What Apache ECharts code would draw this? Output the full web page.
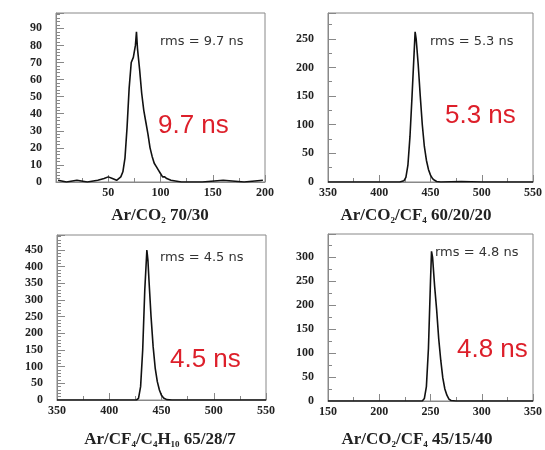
<!DOCTYPE html>
<html>
<head>
<meta charset="utf-8">
<script src="https://cdn.jsdelivr.net/npm/echarts@6/dist/echarts.min.js"></script>
<style>
  html, body { margin: 0; padding: 0; background: #fff; }
  #chart { width: 545px; height: 450px; }
</style>
</head>
<body>
<div id="chart"></div>
<script>
// time distributions, one histogram per gas mixture
const xsA = [2, 10, 20, 30, 40, 46, 50, 54, 58, 62, 64, 66, 68, 70, 72, 74, 76, 77, 78, 80, 82, 84, 86, 88, 90, 92, 94, 96, 98, 100, 102, 104, 106, 110, 120, 140, 160, 180, 198];
const ysA = [1, 0, 1, 0, 1, 2, 3, 2, 1, 3, 6, 14, 32, 55, 70, 73, 80, 88, 78, 66, 52, 42, 35, 28, 20, 15, 11, 9, 7, 5, 3, 3, 2, 1, 0, 0, 1, 0, 1];

const xsB = [350, 420, 424, 426, 428, 430, 432, 434, 435, 436, 438, 440, 442, 444, 446, 448, 450, 452, 454, 456, 460, 480, 500, 550];
const ysB = [0, 0, 2, 8, 30, 80, 150, 225, 262, 250, 205, 150, 100, 62, 38, 22, 12, 6, 3, 1, 0, 1, 0, 0];

const xsC = [350, 426, 428, 430, 432, 434, 436, 437, 438, 440, 442, 444, 446, 448, 450, 452, 455, 460, 550];
const ysC = [0, 0, 5, 40, 150, 330, 450, 420, 360, 250, 160, 95, 55, 30, 14, 6, 1, 0, 0];

const xsD = [150, 242, 244, 246, 248, 250, 251, 252, 254, 256, 258, 260, 262, 264, 266, 268, 270, 275, 350];
const ysD = [0, 0, 5, 30, 110, 250, 312, 300, 240, 190, 130, 85, 48, 25, 12, 4, 1, 0, 0];

const rmsLabels = ['rms = 9.7 ns', 'rms = 5.3 ns', 'rms = 4.5 ns', 'rms = 4.8 ns'];
const bigLabels = ['9.7 ns', '5.3 ns', '4.5 ns', '4.8 ns'];

const chart = echarts.init(document.getElementById('chart'));

const serif = '"Liberation Serif", "DejaVu Serif", serif';
const panels = [
  { xs: xsA, ys: ysA, grid: { left: 56, top: 13, width: 209, height: 169 }, x: [0, 200], y: [0, 99], yInt: 10, yMinor: 5, hideX0: true,
    title: '{a|Ar/CO}{s|2}{a| 70/30}', tx: 155, ty: 211, rx: 160, ry: 42, bx: 158, by: 128 },
  { xs: xsB, ys: ysB, grid: { left: 328, top: 13, width: 209, height: 169 }, x: [350, 550], y: [0, 295], yInt: 50, yMinor: 2,
    title: '{a|Ar/CO}{s|2}{a|/CF}{s|4}{a| 60/20/20}', tx: 411, ty: 211, rx: 430, ry: 42, bx: 445, by: 118 },
  { xs: xsC, ys: ysC, grid: { left: 57, top: 235, width: 209, height: 165 }, x: [350, 550], y: [0, 495], yInt: 50, yMinor: 5,
    title: '{a|Ar/CF}{s|4}{a|/C}{s|4}{a|H}{s|10}{a| 65/28/7}', tx: 155, ty: 435, rx: 160, ry: 258, bx: 170, by: 362 },
  { xs: xsD, ys: ysD, grid: { left: 328, top: 234, width: 208, height: 167 }, x: [150, 350], y: [0, 348], yInt: 50, yMinor: 2,
    title: '{a|Ar/CO}{s|2}{a|/CF}{s|4}{a| 45/15/40}', tx: 412, ty: 435, rx: 435, ry: 253, bx: 457, by: 352 }
];

const axisLabelStyle = { color: '#222', fontFamily: serif, fontWeight: 'bold', fontSize: 12 };

const options = {
  backgroundColor: '#fff',
  animation: false,
  grid: panels.map(p => Object.assign({ show: true, borderColor: '#888', borderWidth: 1, containLabel: false }, p.grid)),
  xAxis: panels.map((p, i) => ({
    type: 'value', gridIndex: i, min: p.x[0], max: p.x[1], interval: 50,
    axisLine: { show: true, onZero: false, lineStyle: { color: '#888' } },
    axisTick: { show: true, inside: true, length: 7, lineStyle: { color: '#888' } },
    minorTick: { show: true, splitNumber: 2, length: 4, lineStyle: { color: '#888' } },
    splitLine: { show: false },
    axisLabel: Object.assign({ margin: 5, showMinLabel: !p.hideX0 }, axisLabelStyle)
  })),
  yAxis: panels.map((p, i) => ({
    type: 'value', gridIndex: i, min: p.y[0], max: p.y[1], interval: p.yInt,
    axisLine: { show: true, lineStyle: { color: '#888' } },
    axisTick: { show: true, inside: true, length: 8, lineStyle: { color: '#888' } },
    minorTick: { show: true, splitNumber: p.yMinor, length: 4, lineStyle: { color: '#888' } },
    splitLine: { show: false },
    axisLabel: Object.assign({ margin: 14, showMaxLabel: false }, axisLabelStyle)
  })),
  series: panels.map((p, i) => ({
    type: 'line', xAxisIndex: i, yAxisIndex: i,
    showSymbol: false, silent: true,
    lineStyle: { color: '#111', width: 1.6 },
    data: p.xs.map((x, k) => [x, p.ys[k]])
  })),
  title: panels.map(p => ({
    text: p.title, left: p.tx, top: p.ty, textAlign: 'center', textVerticalAlign: 'middle',
    textStyle: {
      rich: {
        a: { fontFamily: serif, fontWeight: 'bold', fontSize: 17, color: '#222' },
        s: { fontFamily: serif, fontWeight: 'bold', fontSize: 9, color: '#222', padding: [9, 0, 0, 0] }
      }
    }
  })),
  graphic: panels.flatMap((p, i) => [
    { type: 'text', left: p.rx, top: p.ry - 7,
      style: { text: rmsLabels[i], font: '13px "DejaVu Sans", sans-serif', fill: '#333' } },
    { type: 'text', left: p.bx, top: p.by - 15,
      style: { text: bigLabels[i], font: '26px "Liberation Sans", Arial, sans-serif', fill: '#dd1f2a' } }
  ])
};

chart.setOption(options);
</script>
</body>
</html>
